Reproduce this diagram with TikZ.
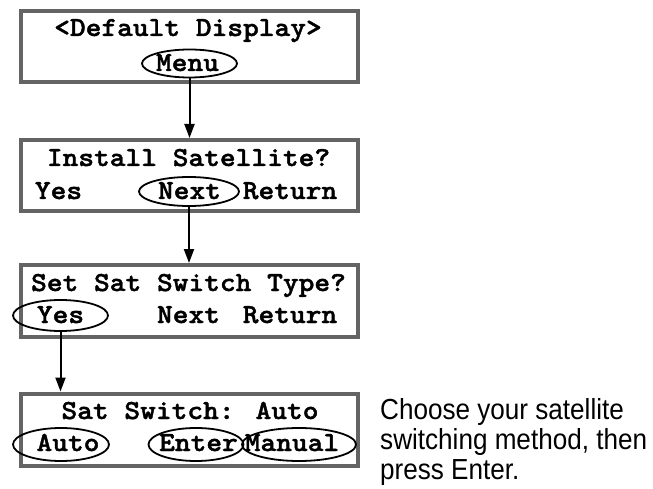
\documentclass[tikz,border=0pt]{standalone}
\usepackage{fontspec}
\setmainfont{Liberation Sans}
\newfontfamily\lcdfont{lmmonolt10-bold}[Extension=.otf,FakeStretch=1.09,FakeBold=1.5]
\newfontfamily\notefont{Liberation Sans}[FakeStretch=0.9]
\usetikzlibrary{arrows.meta,shapes.geometric}
\definecolor{boxgray}{RGB}{100,100,100}
\begin{document}
\begin{tikzpicture}[x=1pt,y=-1pt,
  lcdbox/.style={draw=boxgray,line width=4pt,minimum width=337.5pt,inner sep=0pt,fill=white},
  lcd/.style={font=\lcdfont\fontsize{27.5}{30}\selectfont,inner sep=0pt,anchor=base},
  key/.style={ellipse,draw,line width=1.8pt,inner sep=0pt},
  arr/.style={line width=2pt,-{Triangle[width=10pt,length=14pt]}},
  note/.style={font=\notefont\fontsize{29}{30}\selectfont,inner sep=0pt,anchor=base west}]
\useasboundingbox (0,0) rectangle (653,489);
% boxes
\node[lcdbox,minimum height=70.7pt] (b1) at (189.25,46.6) {};
\node[lcdbox,minimum height=71.5pt] (b2) at (189.25,175.75) {};
\node[lcdbox,minimum height=72pt] (b3) at (189.25,301) {};
\node[lcdbox,minimum height=72.5pt] (b4) at (189.25,429.75) {};
% box 1
\node[lcd] (t1) at (188,36) {<Default Display>};
\node[lcd] (menu) at (187.5,71) {Menu};
\node[key,minimum width=95pt,minimum height=28pt] (menuK) at (189.5,63.5) {};
% box 2
\node[lcd] (t2) at (188.5,166) {Install Satellite?};
\node[lcd] (yes2) at (58.5,199) {Yes};
\node[lcd] (next2) at (189.5,199) {Next};
\node[lcd] (ret2) at (290,199) {Return};
\node[key,minimum width=100pt,minimum height=29pt] (nextK) at (189,191.5) {};
% box 3
\node[lcd] (t3) at (188.5,291) {Set Sat Switch Type?};
\node[lcd] (yes3) at (60.5,323) {Yes};
\node[lcd] (next3) at (188.5,323) {Next};
\node[lcd] (ret3) at (290,323) {Return};
\node[key,minimum width=95pt,minimum height=31pt] (yesK) at (60.5,315.5) {};
% box 4
\node[lcd] (t4) at (190,419) {Sat Switch: Auto};
\node[lcd] (auto4) at (68,451) {Auto};
\node[lcd] (enter4) at (198.5,451) {Enter};
\node[lcd] (man4) at (292,451) {Manual};
\node[key,minimum width=96pt,minimum height=33pt] (autoK) at (61,444.5) {};
\node[key,minimum width=95pt,minimum height=33pt] (enterK) at (196,444.5) {};
\node[key,minimum width=114pt,minimum height=33pt] (manK) at (299,444.5) {};
% arrows
\draw[arr] (menuK.south) -- (menuK.south |- b2.north);
\draw[arr] (nextK.south) -- (nextK.south |- b3.north);
\draw[arr] (yesK.south) -- (yesK.south |- b4.north);
% note
\node[note] (n1) at (380,419) {Choose your satellite};
\node[note] (n2) at (380,449) {switching method, then};
\node[note] (n3) at (380,479) {press Enter.};
\end{tikzpicture}
\end{document}
